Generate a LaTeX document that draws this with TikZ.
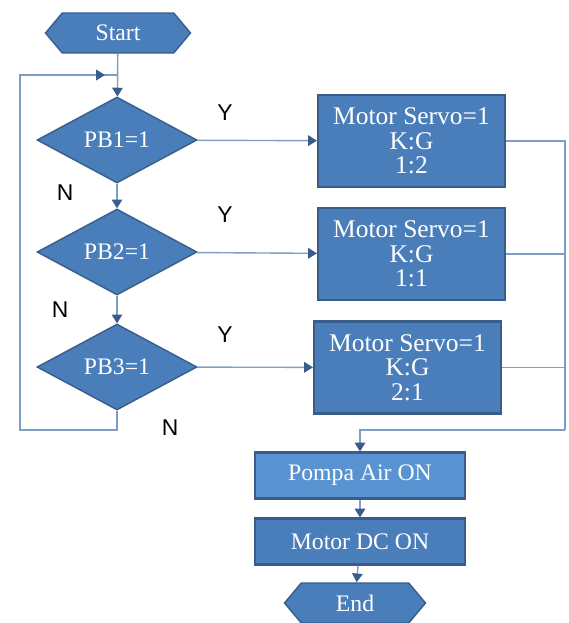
\documentclass[tikz,border=0pt]{standalone}
\usepackage{fontspec}
\setmainfont{Liberation Serif}
\setsansfont{Liberation Sans}
\newfontfamily\boxfont{Liberation Serif}
\usepackage{tikz}
\usetikzlibrary{arrows.meta,positioning,calc,shapes.geometric,shapes.symbols}

\definecolor{boxblue}{HTML}{4A7EBB}
\definecolor{boxline}{HTML}{385D8A}
\definecolor{pumpblue}{HTML}{5A93D2}
\definecolor{wire}{HTML}{7F9EC4}

\begin{document}
\begin{tikzpicture}[
    every node/.style={text=white, font=\boxfont\fontsize{13.5}{14}\selectfont},
    terminal/.style={shape=signal, signal to=west and east, signal pointer angle=100,
        draw=boxline, fill=boxblue, thick, minimum width=2.9cm, minimum height=0.8cm, inner sep=1pt},
    decision/.style={diamond, draw=boxline, fill=boxblue, thick, aspect=1.86,
        minimum width=3.2cm, minimum height=1.72cm, inner sep=0pt},
    servobox/.style={rectangle, draw=boxline, fill=boxblue, very thick, align=center,
        minimum width=3.74cm, minimum height=1.84cm, font=\boxfont\fontsize{14.5}{14}\selectfont},
    actbox/.style={rectangle, draw=boxline, fill=boxblue, very thick,
        minimum width=4.2cm, minimum height=0.92cm},
    yn/.style={text=black, font=\sffamily\fontsize{13}{14}\selectfont},
    flow/.style={draw=wire, thick, -{Triangle[length=5pt,width=6pt,color=boxline]}},
    wireline/.style={draw=wire, thick}
]
    \useasboundingbox (0,0) rectangle (11.38,-12.46);

    % left column: start and the three buttons
    \node[terminal] (start) at (2.36,-0.66) {Start};
    \node[decision] (pb1) at (2.34,-2.8) {PB1=1};
    \node[decision] (pb2) at (2.34,-5.04) {PB2=1};
    \node[decision] (pb3) at (2.34,-7.34) {PB3=1};

    % right column: servo ratios
    \node[servobox] (servoA) at (8.23,-2.82) {Motor Servo=1\\K:G\\1:2};
    \node[servobox] (servoB) at (8.23,-5.08) {Motor Servo=1\\K:G\\1:1};
    \node[servobox] (servoC) at (8.15,-7.35) {Motor Servo=1\\K:G\\2:1};

    % bottom column
    \node[actbox, fill=pumpblue] (pompa) at (7.2,-9.51) {Pompa Air ON};
    \node[actbox] (motordc) at (7.2,-10.83) {Motor DC ON};
    \node[terminal, minimum width=2.82cm] (finish) at (7.1,-12.06) {End};

    % helper points for the loop and the rail on the right
    \coordinate (loopjoin) at (2.1,-1.5);
    \coordinate (loopbl) at (0.4,-8.6);
    \coordinate (rail) at (11.3,-8.6);

    % main line
    \draw[flow] (start) -- (pb1);
    \draw[flow] (pb1) -- (pb2);
    \draw[flow] (pb2) -- (pb3);
    \draw[wireline] (pb3.south) -- (pb3.south |- loopbl) -- (loopbl) -- (loopbl |- loopjoin) -- (start.south |- loopjoin);
    \draw[flow] (loopbl |- loopjoin) -- (loopjoin);

    % yes branches
    \draw[flow] (pb1) -- (servoA);
    \draw[flow] (pb2) -- (servoB);
    \draw[flow] (pb3) -- (servoC);

    % collect on the right
    \draw[wireline] (servoA.east) -- (servoA.east -| rail) -- (rail);
    \draw[wireline] (servoB.east) -- (servoB.east -| rail);
    \draw[wireline] (servoC.east) -- (servoC.east -| rail);
    \draw[flow] (rail) -- (pompa.north |- rail) -- (pompa.north);
    \draw[flow] (pompa) -- (motordc);
    \draw[flow] (motordc) -- (finish);

    % Y / N labels
    \node[yn] (y1) at (4.5,-2.26) {Y};
    \node[yn] (y2) at (4.5,-4.3) {Y};
    \node[yn] (y3) at (4.5,-6.7) {Y};
    \node[yn] (n1) at (1.3,-3.86) {N};
    \node[yn] (n2) at (1.2,-6.2) {N};
    \node[yn] (n3) at (3.4,-8.56) {N};
\end{tikzpicture}
\end{document}
